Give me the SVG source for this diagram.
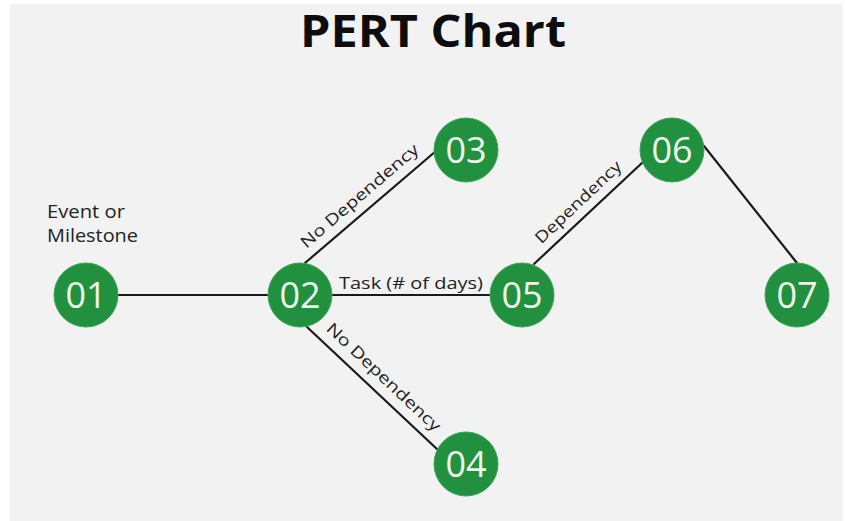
<svg xmlns="http://www.w3.org/2000/svg" width="845" height="521" viewBox="0 0 845 521">
  <style>
    .title { font-family: "Open Sans", "Liberation Sans", sans-serif; font-weight: 700; font-size: 45px; fill: #0d0d0d; }
    .label { font-family: "Open Sans", "Liberation Sans", sans-serif; font-size: 16px; fill: #222; }
    .note { font-family: "Open Sans", "Liberation Sans", sans-serif; font-size: 17.5px; fill: #222; }
    .edge { stroke: #1a1a1a; stroke-width: 2.2; fill: none; stroke-linecap: round; }
    .node circle { fill: #21903f; stroke: #3aa655; stroke-width: 1; }
    .node text { font-family: "Open Sans", "Liberation Sans", sans-serif; font-size: 36px; fill: #eef7ea; text-anchor: middle; }
  </style>

  <!-- canvas -->
  <rect x="0" y="0" width="845" height="521" fill="#ffffff"/>
  <rect x="10" y="4" width="833" height="517" fill="#f2f2f2"/>

  <text class="title" x="433" y="47" text-anchor="middle" textLength="266" lengthAdjust="spacingAndGlyphs">PERT Chart</text>

  <!-- connectors -->
  <g id="connectors">
    <line class="edge" x1="118" y1="295" x2="268" y2="295"/>
    <line class="edge" x1="305" y1="263" x2="436" y2="151"/>
    <line class="edge" x1="307" y1="327" x2="438" y2="450"/>
    <line class="edge" x1="332" y1="295" x2="490" y2="295"/>
    <line class="edge" x1="534" y1="264" x2="643" y2="162"/>
    <line class="edge" x1="704" y1="146" x2="797" y2="263"/>
  </g>

  <!-- connector labels -->
  <g id="edge-labels">
    <text class="note" x="47" y="218" textLength="78" lengthAdjust="spacingAndGlyphs">Event or</text>
    <text class="note" x="47" y="242" textLength="91" lengthAdjust="spacingAndGlyphs">Milestone</text>
    <text class="label" x="411" y="289" text-anchor="middle" textLength="144" lengthAdjust="spacingAndGlyphs">Task (# of days)</text>
    <text class="label" text-anchor="middle" transform="translate(363,200) rotate(-40.7)" textLength="150" lengthAdjust="spacingAndGlyphs">No Dependency</text>
    <text class="label" text-anchor="middle" transform="translate(380,381) rotate(43.2)" textLength="150" lengthAdjust="spacingAndGlyphs">No Dependency</text>
    <text class="label" text-anchor="middle" transform="translate(582,206) rotate(-43.4)" textLength="112" lengthAdjust="spacingAndGlyphs">Dependency</text>
  </g>

  <!-- events -->
  <g id="node-01" class="node"><circle cx="86" cy="295" r="32"/><text x="86" y="308">01</text></g>
  <g id="node-02" class="node"><circle cx="300" cy="295" r="32"/><text x="300" y="308">02</text></g>
  <g id="node-03" class="node"><circle cx="466" cy="150" r="32"/><text x="466" y="163">03</text></g>
  <g id="node-04" class="node"><circle cx="466" cy="464" r="32"/><text x="466" y="477">04</text></g>
  <g id="node-05" class="node"><circle cx="522" cy="295" r="32"/><text x="522" y="308">05</text></g>
  <g id="node-06" class="node"><circle cx="672" cy="150" r="32"/><text x="672" y="163">06</text></g>
  <g id="node-07" class="node"><circle cx="797" cy="295" r="32"/><text x="797" y="308">07</text></g>
</svg>
